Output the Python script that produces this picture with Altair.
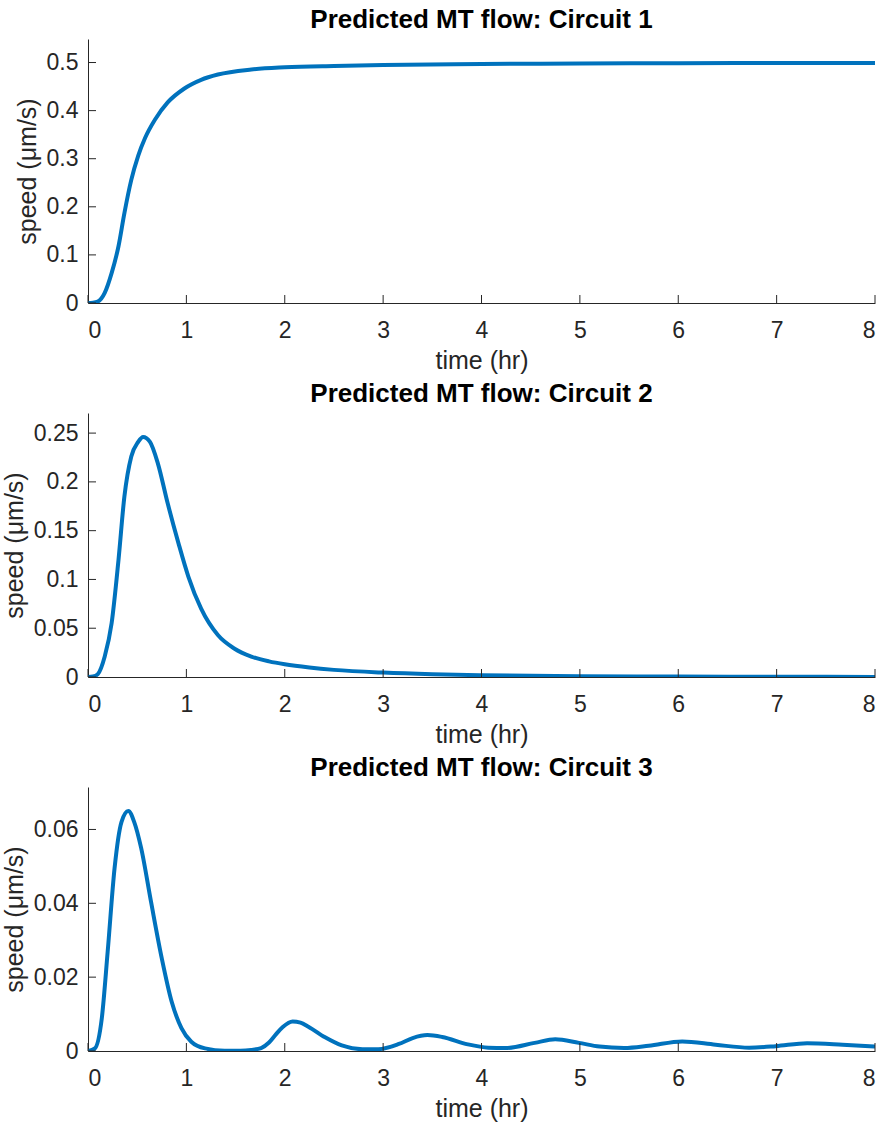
import altair as alt
import pandas as pd

# Circuit 1: speed rises sigmoidally to a plateau near 0.5 µm/s
t1 = [0, 0.05, 0.10, 0.17, 0.24, 0.31, 0.37, 0.44, 0.51, 0.58, 0.68, 0.81, 0.98,
      1.15, 1.32, 1.66, 2.0, 2.5, 3.0, 4.0, 5.0, 6.0, 7.0, 8.0]
v1 = [0, 0.0005, 0.003, 0.021, 0.062, 0.118, 0.187, 0.256, 0.306, 0.343, 0.381,
      0.417, 0.446, 0.464, 0.475, 0.4855, 0.490, 0.493, 0.495, 0.497, 0.498,
      0.4985, 0.499, 0.499]

# Circuit 2: single transient pulse
t2 = [0, 0.05, 0.10, 0.17, 0.24, 0.31, 0.37, 0.44, 0.51, 0.56, 0.63, 0.71, 0.81,
      0.92, 1.02, 1.15, 1.32, 1.49, 1.66, 1.84, 2.0, 2.25, 2.5, 3.0, 3.5, 4.0,
      5.0, 6.0, 7.0, 8.0]
v2 = [0, 0.0005, 0.003, 0.021, 0.055, 0.12, 0.185, 0.226, 0.241, 0.246, 0.241,
      0.219, 0.178, 0.137, 0.103, 0.070, 0.043, 0.029, 0.021, 0.016, 0.013,
      0.0097, 0.0073, 0.0045, 0.0028, 0.0018, 0.0008, 0.0004, 0.0002, 0.0001]

# Circuit 3: large first pulse followed by damped oscillations
t3 = [0, 0.07, 0.14, 0.20, 0.27, 0.34, 0.41, 0.47, 0.54, 0.64, 0.75, 0.85, 0.95,
      1.05, 1.19, 1.39, 1.55, 1.66, 1.76, 1.84, 1.91, 1.98, 2.08, 2.16, 2.24,
      2.41, 2.58, 2.79, 2.95, 3.16, 3.30, 3.45, 3.60, 3.86, 4.07, 4.24, 4.54,
      4.75, 4.99, 5.20, 5.45, 5.70, 6.04, 6.38, 6.72, 6.99, 7.31, 7.67, 8.0]
v3 = [0, 0.0007, 0.0088, 0.0269, 0.0495, 0.062, 0.065, 0.062, 0.055, 0.0405,
      0.0251, 0.0134, 0.0062, 0.0025, 0.0007, 0.0001, 0.0001, 0.0003, 0.0008,
      0.0023, 0.0045, 0.0065, 0.0080, 0.0077, 0.0066, 0.0037, 0.0015, 0.0005,
      0.0005, 0.0019, 0.0035, 0.0043, 0.0038, 0.0018, 0.0009, 0.0008, 0.0022,
      0.0032, 0.0022, 0.0012, 0.0008, 0.0014, 0.0026, 0.0017, 0.0009, 0.0013,
      0.0021, 0.0017, 0.0012]

titles = ["Predicted MT flow: Circuit 1", "Predicted MT flow: Circuit 2",
          "Predicted MT flow: Circuit 3"]
x_ticks = [0, 1, 2, 3, 4, 5, 6, 7, 8]
y_ticks = [[0, 0.1, 0.2, 0.3, 0.4, 0.5],
           [0, 0.05, 0.1, 0.15, 0.2, 0.25],
           [0, 0.02, 0.04, 0.06]]

W, H = 787, 264
TICK = 8
FONT = "Liberation Sans"
INK = "#262626"
BLUE = "#0072BD"


def panel(t, v, title, yt):
    ymax = 1.1 * max(v)
    xs = alt.Scale(domain=[0, 8], nice=False, zero=False)
    ys = alt.Scale(domain=[0, ymax], nice=False)
    x_axis = alt.Axis(values=x_ticks, format="~g", title="time (hr)",
                      labelPadding=16, titlePadding=6)
    y_axis = alt.Axis(values=yt, format="~g", title="speed (μm/s)",
                      labelPadding=10, titlePadding=6)
    df = pd.DataFrame({"t": t, "v": v})
    line = alt.Chart(df).mark_line(
        color=BLUE, strokeWidth=4, interpolate="monotone", clip=True
    ).encode(
        x=alt.X("t:Q", scale=xs, axis=x_axis),
        y=alt.Y("v:Q", scale=ys, axis=y_axis),
    )
    # inward-pointing tick marks
    xtick = alt.Chart(pd.DataFrame({"t": x_ticks})).mark_rule(
        color=INK, strokeWidth=1
    ).encode(x=alt.X("t:Q", scale=xs, axis=x_axis),
             y=alt.value(H), y2=alt.value(H - TICK))
    ytick = alt.Chart(pd.DataFrame({"v": yt})).mark_rule(
        color=INK, strokeWidth=1
    ).encode(y=alt.Y("v:Q", scale=ys, axis=y_axis),
             x=alt.value(0), x2=alt.value(TICK))
    # panel heading, centred above the plot area
    head = alt.Chart(pd.DataFrame({"label": [title]})).mark_text(
        font=FONT, fontSize=26, fontWeight="bold", color="#000000",
        align="center", baseline="alphabetic"
    ).encode(x=alt.value(W / 2), y=alt.value(-11), text="label:N")
    return alt.layer(line, xtick, ytick, head).properties(width=W, height=H)


chart = alt.vconcat(
    *[panel(t, v, ti, yt) for t, v, ti, yt in
      zip([t1, t2, t3], [v1, v2, v3], titles, y_ticks)],
    spacing=110, bounds="flush",
).properties(
    padding={"left": 2, "top": 7, "right": 10, "bottom": 10},
    background="white",
).configure_view(stroke=None).configure_axis(
    grid=False, ticks=False, tickSize=0,
    domainColor=INK, domainWidth=1,
    labelFont=FONT, labelFontSize=23, labelColor=INK,
    titleFont=FONT, titleFontSize=25, titleFontWeight="normal", titleColor=INK,
)

chart.save("out.html", embed_options={"renderer": "svg", "actions": False})
